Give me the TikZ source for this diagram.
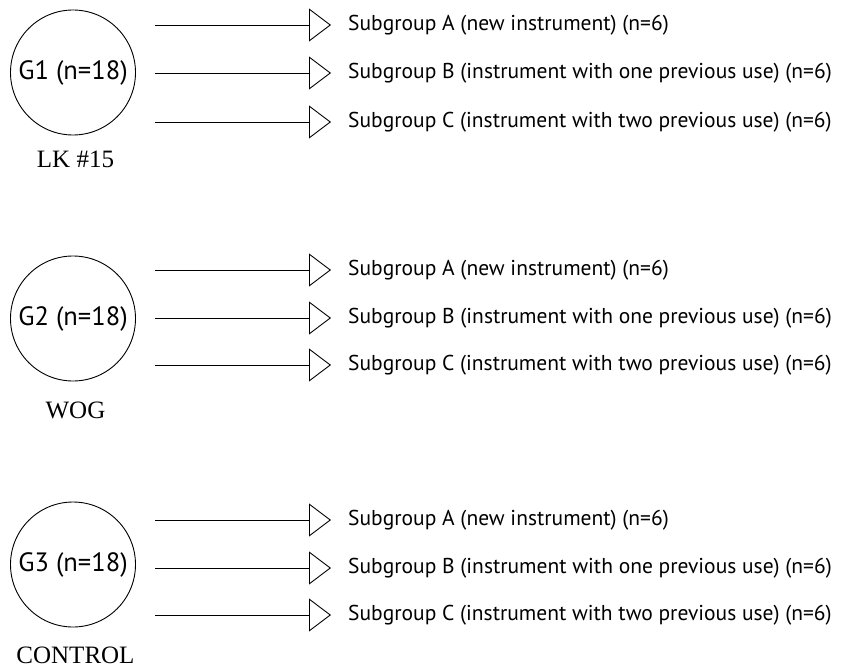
\documentclass[tikz,border=0pt]{standalone}
\usepackage{fontspec}
\setmainfont{Liberation Serif}
\newfontfamily\subfont{PT Sans}
\usetikzlibrary{arrows.meta}
\tikzset{
  grp/.style={circle,draw,line width=0.9pt,minimum size=125pt,inner sep=0pt,font=\subfont\fontsize{26.5}{31}\selectfont},
  sub/.style={anchor=west,inner sep=0pt,font=\subfont\fontsize{21.5}{26}\selectfont},
  lab/.style={inner sep=0pt,font=\fontsize{25}{30}\selectfont},
  arr/.style={line width=0.9pt,-{Triangle[open,length=22pt,width=33pt,line width=0.9pt]},shorten >=17pt}
}
\begin{document}
\begin{tikzpicture}[x=1pt,y=-1pt]
\useasboundingbox (0,0) rectangle (842,671);
\foreach \g/\cy/\ya/\yb/\yc/\ly/\lt in {1/72.5/25/73/122/159/{LK \#15},2/318.5/270/318/365/410/WOG,3/564.5/520/568/615/655/CONTROL}{
  \node[grp] (g\g) at (73,\cy) {G\g{} (n=18)};
  \node[lab] (l\g) at (75.5,\ly) {\lt};
  \node[sub] (ta\g) at (348,\ya) {Subgroup A (new instrument) (n=6)};
  \node[sub] (tb\g) at (348,\yb) {Subgroup B (instrument with one previous use) (n=6)};
  \node[sub] (tc\g) at (348,\yc) {Subgroup C (instrument with two previous use) (n=6)};
  \coordinate (sa\g) at (155,\ya);
  \coordinate (sb\g) at (155,\yb);
  \coordinate (sc\g) at (155,\yc);
  \draw[arr] (sa\g) -- (ta\g.west);
  \draw[arr] (sb\g) -- (tb\g.west);
  \draw[arr] (sc\g) -- (tc\g.west);
}
\end{tikzpicture}
\end{document}
